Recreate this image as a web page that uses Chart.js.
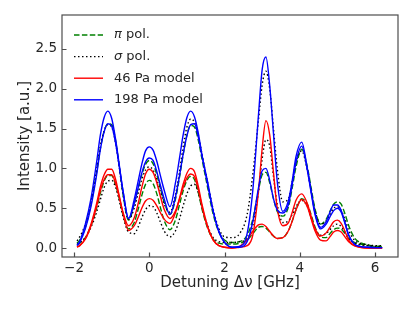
<!DOCTYPE html>
<html>
<head>
<meta charset="utf-8">
<script src="https://cdn.jsdelivr.net/npm/chart.js@4.4.0/dist/chart.umd.min.js"></script>
<style>
  html, body { margin: 0; padding: 0; background: #fff; }
  #wrap { width: 415px; height: 311px; }
</style>
</head>
<body>
<div id="wrap"><canvas id="myChart" width="415" height="311"></canvas></div>
<script>
// eje x comun (GHz)
const detuning = [-1.92,-1.85,-1.7,-1.55,-1.4,-1.3,-1.2,-1.1,-1.0,-0.9,-0.8,-0.7,-0.55,-0.4,-0.3,-0.2,-0.1,0.0,0.1,0.2,0.3,0.4,0.55,0.7,0.8,0.9,1.0,1.1,1.2,1.3,1.4,1.55,1.7,1.85,2.0,2.2,2.4,2.6,2.75,2.9,3.0,3.1,3.2,3.3,3.4,3.55,3.7,3.8,3.9,4.05,4.2,4.3,4.4,4.55,4.7,4.8,4.9,5.0,5.1,5.2,5.3,5.45,5.6,5.8,6.0,6.19];

// datos medidos
const pi198 = [.06,.10,.26,.55,.95,1.25,1.47,1.56,1.55,1.36,1.04,.68,.35,.55,.74,.92,1.05,1.10,1.06,.92,.74,.57,.42,.62,.88,1.17,1.42,1.54,1.52,1.36,1.12,.76,.42,.20,.10,.07,.08,.16,.36,.72,.92,.95,.82,.62,.46,.40,.52,.76,1.02,1.24,1.02,.76,.50,.30,.36,.46,.55,.58,.55,.43,.28,.13,.07,.04,.02,.02];
const sigma198 = [.09,.14,.30,.58,.98,1.28,1.47,1.55,1.52,1.33,1.02,.68,.36,.50,.68,.86,.98,1.02,.98,.86,.70,.55,.45,.68,.95,1.27,1.52,1.62,1.58,1.42,1.18,.82,.48,.24,.14,.13,.18,.42,.92,1.60,2.05,2.22,2.00,1.50,1.00,.58,.62,.84,1.08,1.22,.98,.72,.48,.30,.34,.42,.50,.52,.47,.36,.22,.10,.06,.04,.03,.03];
const pi46 = [.04,.06,.13,.28,.50,.69,.84,.91,.91,.80,.62,.42,.24,.32,.48,.66,.80,.85,.81,.68,.50,.34,.23,.36,.54,.72,.85,.90,.86,.70,.49,.25,.11,.06,.05,.05,.06,.10,.18,.26,.27,.25,.20,.15,.12,.13,.22,.34,.48,.62,.55,.42,.27,.14,.13,.18,.23,.25,.24,.18,.12,.07,.05,.03,.02,.02];
const sigma46 = [.05,.07,.13,.26,.45,.61,.76,.84,.85,.77,.60,.40,.20,.18,.26,.38,.48,.53,.52,.44,.32,.21,.14,.22,.36,.53,.68,.78,.80,.70,.52,.28,.13,.08,.07,.07,.08,.12,.28,.70,1.12,1.36,1.28,.90,.55,.32,.34,.42,.52,.60,.52,.38,.25,.16,.18,.23,.28,.30,.27,.20,.12,.06,.04,.03,.02,.02];

// modelos
const model46a = [.01,.03,.12,.30,.56,.77,.92,.99,.99,.87,.66,.44,.22,.28,.38,.50,.59,.62,.60,.53,.44,.36,.31,.45,.62,.80,.94,1.00,.96,.78,.55,.27,.10,.03,.01,0,.01,.03,.16,.70,1.25,1.60,1.42,.95,.50,.28,.32,.45,.60,.68,.56,.40,.25,.15,.19,.26,.33,.35,.31,.21,.10,.03,.01,0,0,0];
const model46b = [.01,.03,.11,.28,.52,.72,.86,.92,.92,.82,.64,.45,.28,.38,.55,.76,.93,.99,.95,.82,.64,.48,.37,.47,.61,.76,.88,.93,.90,.74,.52,.26,.10,.03,.01,0,.02,.10,.21,.29,.30,.27,.21,.15,.12,.13,.22,.34,.48,.61,.52,.37,.22,.10,.09,.14,.20,.22,.20,.14,.08,.03,.01,0,0,0];
const model198a = [.04,.08,.30,.62,1.08,1.42,1.64,1.72,1.63,1.38,1.05,.72,.37,.61,.83,1.05,1.22,1.27,1.23,1.09,.90,.72,.52,.83,1.12,1.42,1.64,1.72,1.65,1.45,1.17,.83,.46,.21,.07,.01,.02,.18,.72,1.66,2.24,2.40,2.04,1.44,.84,.46,.60,.85,1.15,1.33,1.00,.72,.45,.26,.33,.45,.54,.54,.47,.32,.16,.05,.02,.01,.005,.005];
const model198b = [.03,.07,.24,.52,.92,1.24,1.46,1.56,1.53,1.33,1.03,.72,.37,.56,.75,.94,1.08,1.13,1.10,.96,.78,.61,.42,.65,.90,1.18,1.41,1.55,1.56,1.40,1.16,.80,.46,.20,.07,.01,.01,.08,.33,.75,.97,1.00,.85,.62,.48,.44,.55,.80,1.08,1.28,.98,.70,.43,.24,.30,.39,.47,.50,.45,.31,.16,.05,.02,.01,.005,.005];

// ticks y leyenda
const xTicks = [-2, 0, 2, 4, 6];
const yTicks = [0, 0.5, 1.0, 1.5, 2.0, 2.5];
const leyenda = [
  { sym: "π", text: " pol.", color: "#008000", dash: [5.5, 2.4] },
  { sym: "σ", text: " pol.", color: "#000000", dash: [1.5, 2.5] },
  { sym: "", text: "46 Pa model", color: "#ff0000", dash: [] },
  { sym: "", text: "198 Pa model", color: "#0000ff", dash: [] }
];

const texto = "#262626";
const marco = "#4d4d4d";

const puntos = (ys) => detuning.map((x, i) => ({ x: x, y: ys[i] }));

const serie = (ys, color, dash, orden) => ({
  data: puntos(ys),
  borderColor: color,
  backgroundColor: color,
  borderWidth: 1.4,
  borderDash: dash,
  pointRadius: 0,
  cubicInterpolationMode: 'monotone',
  fill: false,
  order: orden
});

//! marco, ticks hacia adentro y leyenda
const extras = {
  id: 'extras',
  afterDraw(chart) {
    const { ctx, chartArea: a, scales } = chart;
    ctx.save();
    ctx.strokeStyle = marco;
    ctx.lineWidth = 1.2;
    ctx.setLineDash([]);
    ctx.strokeRect(a.left, a.top, a.right - a.left, a.bottom - a.top);
    ctx.beginPath();
    xTicks.forEach((v) => {
      const px = Math.round(scales.x.getPixelForValue(v)) + 0.5;
      ctx.moveTo(px, a.bottom);
      ctx.lineTo(px, a.bottom - 4.5);
    });
    yTicks.forEach((v) => {
      const py = Math.round(scales.y.getPixelForValue(v)) + 0.5;
      ctx.moveTo(a.left, py);
      ctx.lineTo(a.left + 4.5, py);
    });
    ctx.stroke();

    leyenda.forEach((item, i) => {
      const y = 35 + i * 21.6;
      ctx.beginPath();
      ctx.strokeStyle = item.color;
      ctx.lineWidth = 1.4;
      ctx.setLineDash(item.dash);
      ctx.moveTo(74, y);
      ctx.lineTo(103, y);
      ctx.stroke();
      ctx.setLineDash([]);
      ctx.fillStyle = texto;
      ctx.textBaseline = 'middle';
      let x = 114;
      if (item.sym) {
        ctx.font = 'italic 13px "DejaVu Sans"';
        ctx.fillText(item.sym, x, y);
        x += ctx.measureText(item.sym).width;
      }
      ctx.font = '13px "DejaVu Sans"';
      ctx.fillText(item.text, x, y);
    });
    ctx.restore();
  }
};

const chartDOM = document.getElementById("myChart");
let myChart = new Chart(chartDOM, {
  type: 'line',
  data: {
    datasets: [
      serie(pi198, '#008000', [5.5, 2.4], 4),
      serie(pi46, '#008000', [5.5, 2.4], 4),
      serie(sigma198, '#000000', [1.5, 2.5], 3),
      serie(sigma46, '#000000', [1.5, 2.5], 3),
      serie(model46a, '#ff0000', [], 2),
      serie(model46b, '#ff0000', [], 2),
      serie(model198a, '#0000ff', [], 1),
      serie(model198b, '#0000ff', [], 1)
    ]
  },
  options: {
    responsive: false,
    animation: false,
    events: [],
    layout: { padding: { left: 0, right: 17, top: 15, bottom: 0 } },
    plugins: { legend: { display: false }, tooltip: { enabled: false } },
    scales: {
      x: {
        type: 'linear',
        min: -2.32,
        max: 6.61,
        afterFit: (s) => { s.height = 54; },
        afterBuildTicks: (s) => { s.ticks = xTicks.map((v) => ({ value: v })); },
        grid: { display: false, drawTicks: false },
        border: { display: false },
        ticks: {
          padding: 3.5,
          color: texto,
          font: { family: 'DejaVu Sans', size: 13.5 },
          callback: (v) => (v < 0 ? '\u2212' + Math.abs(v) : String(v))
        },
        title: {
          display: true,
          text: 'Detuning \u0394\u03bd [GHz]',
          color: texto,
          font: { family: 'DejaVu Sans', size: 15 },
          padding: { top: 0, bottom: 19 }
        }
      },
      y: {
        type: 'linear',
        min: -0.113,
        max: 2.927,
        afterFit: (s) => { s.width = 62; },
        afterBuildTicks: (s) => { s.ticks = yTicks.map((v) => ({ value: v })); },
        grid: { display: false, drawTicks: false },
        border: { display: false },
        ticks: {
          padding: 5,
          color: texto,
          font: { family: 'DejaVu Sans', size: 13.5 },
          callback: (v) => v.toFixed(1)
        },
        title: {
          display: true,
          text: 'Intensity [a.u.]',
          color: texto,
          font: { family: 'DejaVu Sans', size: 15 },
          padding: { top: 16, bottom: 0 }
        }
      }
    }
  },
  plugins: [extras]
});
</script>
</body>
</html>
